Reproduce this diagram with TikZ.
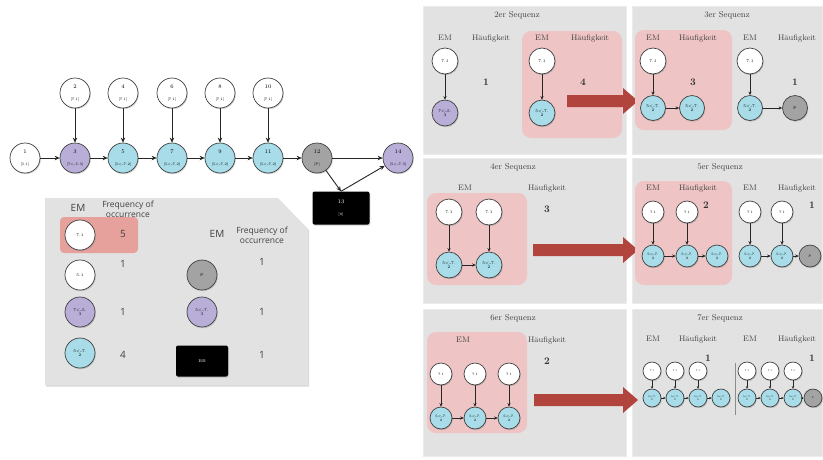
\documentclass[tikz,border=0pt]{standalone}
\usepackage{fontspec}
\newfontfamily\legendfont{Open Sans}
\usetikzlibrary{shadows,arrows.meta}
\definecolor{cpurple}{HTML}{B9AED8}
\definecolor{ccyan}{HTML}{A7DCE8}
\definecolor{cgrey}{HTML}{A3A3A3}
\definecolor{cpanel}{HTML}{E2E2E2}
\definecolor{cpink}{HTML}{EEC4C4}
\definecolor{csalmon}{HTML}{E6A19D}
\definecolor{cred}{HTML}{B1443C}
\newcommand\gnum[1]{{\fontsize{5.5}{6}\selectfont #1}}
\newcommand\gbr[1]{{\fontsize{3.5}{4}\selectfont #1}}
\begin{document}
\begin{tikzpicture}[x=1pt,y=-1pt,
  nd/.style={circle,draw=black!75,line width=0.7pt,inner sep=0pt,align=center,
     drop shadow={opacity=0.35,shadow xshift=0.8pt,shadow yshift=-1.2pt}},
  sz/.style={minimum size=#1},
  wn/.style={nd,fill=white},
  pn/.style={nd,fill=cpurple},
  cn/.style={nd,fill=ccyan},
  gn/.style={nd,fill=cgrey},
  bn/.style={rectangle,rounded corners=2pt,fill=black,text=white,align=center,inner sep=0pt,
     drop shadow={opacity=0.35,shadow xshift=0.8pt,shadow yshift=-1.2pt}},
  pf/.style={font=\fontsize{4}{4.4}\selectfont},
  mf/.style={font=\fontsize{3.4}{3.8}\selectfont},
  tf/.style={font=\fontsize{2.4}{2.7}\selectfont},
  arr/.style={-{Stealth[length=5pt,width=4.5pt]},line width=0.9pt,black!85},
  sarr/.style={-{Stealth[length=3.5pt,width=3.2pt]},line width=0.6pt,black!85},
  tarr/.style={-{Stealth[length=2.5pt,width=2.4pt]},line width=0.45pt,black!85},
  lab/.style={font=\fontsize{8}{9}\selectfont,text=black!75,inner sep=0pt},
  ttl/.style={font=\fontsize{8.5}{9}\selectfont,text=black!75,inner sep=0pt},
  bnum/.style={font=\fontsize{10}{10}\selectfont\bfseries,text=black!80,inner sep=0pt},
  lgt/.style={font=\legendfont\fontsize{8.5}{10}\selectfont,text=black!75,align=center,inner sep=0pt},
  lgn/.style={font=\legendfont\fontsize{10}{10}\selectfont,text=black!75,inner sep=0pt},
  panel/.style={fill=cpanel,draw=black!8,line width=0.6pt},
  pink/.style={fill=cpink,rounded corners=9pt}
]
\useasboundingbox (0,0) rectangle (823,459);

% ---------------- left graph ----------------
\node[wn,sz=30] (n1) at (25,158) {\gnum{1}\\\gbr{[5.1]}};
\node[pn,sz=30] (n3) at (75,158) {\gnum{3}\\\gbr{[7<-5.3]}};
\node[cn,sz=30] (n5) at (123,158) {\gnum{5}\\\gbr{[5<-7.2]}};
\node[cn,sz=30] (n7) at (172,158) {\gnum{7}\\\gbr{[5<-7.2]}};
\node[cn,sz=30] (n9) at (220,158) {\gnum{9}\\\gbr{[5<-7.2]}};
\node[cn,sz=30] (n11) at (268,158) {\gnum{11}\\\gbr{[5<-7.2]}};
\node[gn,sz=30] (n12) at (317,158) {\gnum{12}\\\gbr{[P]}};
\node[pn,sz=30] (n14) at (398,158) {\gnum{14}\\\gbr{[5<-7.3]}};
\node[wn,sz=30] (n2) at (75,93) {\gnum{2}\\\gbr{[7.1]}};
\node[wn,sz=30] (n4) at (123,93) {\gnum{4}\\\gbr{[7.1]}};
\node[wn,sz=30] (n6) at (172,93) {\gnum{6}\\\gbr{[7.1]}};
\node[wn,sz=30] (n8) at (220,93) {\gnum{8}\\\gbr{[7.1]}};
\node[wn,sz=30] (n10) at (268,93) {\gnum{10}\\\gbr{[7.1]}};
\node[bn,minimum width=57,minimum height=33] (n13) at (341,208) {\gnum{13}\\\gbr{[8]}};
\draw[arr] (n1) -- (n3);
\draw[arr] (n3) -- (n5);
\draw[arr] (n5) -- (n7);
\draw[arr] (n7) -- (n9);
\draw[arr] (n9) -- (n11);
\draw[arr] (n11) -- (n12);
\draw[arr] (n12) -- (n14);
\draw[arr] (n2) -- (n3);
\draw[arr] (n4) -- (n5);
\draw[arr] (n6) -- (n7);
\draw[arr] (n8) -- (n9);
\draw[arr] (n10) -- (n11);
\draw[arr] (n12) -- (n13.north);
\draw[arr] (n13.north) -- (n14);

% ---------------- legend ----------------
\fill[cpanel,drop shadow={opacity=0.3,shadow xshift=1pt,shadow yshift=-1.5pt}]
  (45,198) -- (278,198) -- (308,229) -- (308,385) -- (45,385) -- cycle;
\fill[csalmon,rounded corners=4pt] (60,217) rectangle (138,253);
\node[lgn] (l0) at (78,208) {EM};
\node[lgt] (l1) at (128,209) {Frequency of\\occurrence};
\node[lgn] (l2) at (217,234) {EM};
\node[lgt] (l3) at (262,235) {Frequency of\\occurrence};
\node[wn,sz=30,pf] (m1) at (80,235) {7.1};
\node[wn,sz=30,pf] (m2) at (80,275) {5.1};
\node[pn,sz=30,pf] (m3) at (80,312) {7<-5.\\3};
\node[cn,sz=30,pf] (m4) at (80,353) {5<-7.\\2};
\node[gn,sz=30,pf] (m5) at (202,275) {P};
\node[pn,sz=30,pf] (m6) at (202,312) {5<-7.\\3};
\node[bn,minimum width=52,minimum height=31,pf] (m7) at (202,361) {BB};
\node[lgn] (q1) at (123,234) {5};
\node[lgn] (q2) at (123,264) {1};
\node[lgn] (q3) at (123,312) {1};
\node[lgn] (q4) at (123,355) {4};
\node[lgn] (q5) at (262,262) {1};
\node[lgn] (q6) at (262,312) {1};
\node[lgn] (q7) at (262,355) {1};

% ---------------- panels ----------------
\fill[panel] (423,6) rectangle (626,154);
\fill[panel] (632,6) rectangle (822,154);
\fill[panel] (423,158) rectangle (626,303);
\fill[panel] (632,158) rectangle (822,303);
\fill[panel] (423,309) rectangle (626,456);
\fill[panel] (632,309) rectangle (822,456);

% panel 2er
\node[ttl] (p1t) at (517,15) {2er Sequenz};
\fill[pink] (522,31) rectangle (622,138);
\node[lab] (p1a) at (445,38) {EM};
\node[lab] (p1b) at (491,38) {Häufigkeit};
\node[lab] (p1c) at (542,38) {EM};
\node[lab] (p1d) at (590,38) {Häufigkeit};
\node[bnum] (p1e) at (486,82) {1};
\node[bnum] (p1f) at (583,82) {4};
\node[wn,sz=26,pf] (a1) at (445,61) {7.1};
\node[pn,sz=26,pf] (a2) at (445,113) {7<-5.\\3};
\node[wn,sz=26,pf] (a3) at (542,61) {7.1};
\node[cn,sz=26,pf] (a4) at (542,113) {5<-7.\\2};
\draw[sarr] (a1) -- (a2);
\draw[sarr] (a3) -- (a4);
\fill[cred] (567,95) -- (623,95) -- (623,88) -- (638,101) -- (623,114) -- (623,107) -- (567,107) -- cycle;

% panel 3er
\node[ttl] (p2t) at (727,15) {3er Sequenz};
\fill[pink] (635,30) rectangle (732,130);
\node[lab] (p2a) at (653,38) {EM};
\node[lab] (p2b) at (698,38) {Häufigkeit};
\node[lab] (p2c) at (750,38) {EM};
\node[lab] (p2d) at (797,38) {Häufigkeit};
\node[bnum] (p2e) at (693,82) {3};
\node[bnum] (p2f) at (795,82) {1};
\node[wn,sz=26,pf] (b1) at (653,61) {7.1};
\node[cn,sz=25,pf] (b2) at (653,108) {5<-7.\\2};
\node[cn,sz=25,pf] (b3) at (692,108) {5<-7.\\2};
\node[wn,sz=26,pf] (b4) at (750,61) {7.1};
\node[cn,sz=25,pf] (b5) at (750,108) {5<-7.\\2};
\node[gn,sz=25,pf] (b6) at (795,108) {P};
\draw[sarr] (b1) -- (b2);
\draw[sarr] (b2) -- (b3);
\draw[sarr] (b4) -- (b5);
\draw[sarr] (b5) -- (b6);

% panel 4er
\node[ttl] (p3t) at (513,167) {4er Sequenz};
\fill[pink] (427,193) rectangle (527,285);
\node[lab] (p3a) at (465,188) {EM};
\node[lab] (p3b) at (547,188) {Häufigkeit};
\node[bnum] (p3e) at (547,209) {3};
\node[wn,sz=26,pf] (c1) at (449,212) {7.1};
\node[wn,sz=26,pf] (c2) at (489,212) {7.1};
\node[cn,sz=26,pf] (c3) at (449,265) {5<-7.\\2};
\node[cn,sz=26,pf] (c4) at (489,265) {5<-7.\\2};
\draw[sarr] (c1) -- (c3);
\draw[sarr] (c2) -- (c4);
\draw[sarr] (c3) -- (c4);
\fill[cred] (533,244) -- (623,244) -- (623,237) -- (638,250) -- (623,263) -- (623,256) -- (533,256) -- cycle;

% panel 5er
\node[ttl] (p4t) at (720,167) {5er Sequenz};
\fill[pink] (635,181) rectangle (732,285);
\node[lab] (p4a) at (653,188) {EM};
\node[lab] (p4b) at (698,188) {Häufigkeit};
\node[lab] (p4c) at (750,188) {EM};
\node[lab] (p4d) at (797,188) {Häufigkeit};
\node[bnum] (p4e) at (706,205) {2};
\node[bnum] (p4f) at (812,205) {1};
\node[wn,sz=22,mf] (d1) at (653,212) {7.1};
\node[wn,sz=22,mf] (d2) at (687,212) {7.1};
\node[cn,sz=22,mf] (d3) at (653,256) {5<-7.\\2};
\node[cn,sz=22,mf] (d4) at (687,256) {5<-7.\\2};
\node[cn,sz=22,mf] (d5) at (717,256) {5<-7.\\2};
\node[wn,sz=22,mf] (d6) at (750,212) {7.1};
\node[wn,sz=22,mf] (d7) at (782,212) {7.1};
\node[cn,sz=22,mf] (d8) at (750,256) {5<-7.\\2};
\node[cn,sz=22,mf] (d9) at (782,256) {5<-7.\\2};
\node[gn,sz=22,mf] (d10) at (810,256) {P};
\draw[sarr] (d1) -- (d3);
\draw[sarr] (d2) -- (d4);
\draw[sarr] (d3) -- (d4);
\draw[sarr] (d4) -- (d5);
\draw[sarr] (d6) -- (d8);
\draw[sarr] (d7) -- (d9);
\draw[sarr] (d8) -- (d9);
\draw[sarr] (d9) -- (d10);

% panel 6er
\node[ttl] (p5t) at (513,318) {6er Sequenz};
\fill[pink] (427,332) rectangle (527,433);
\node[lab] (p5a) at (463,340) {EM};
\node[lab] (p5b) at (547,340) {Häufigkeit};
\node[bnum] (p5e) at (547,361) {2};
\node[wn,sz=22,mf] (e1) at (441,374) {7.1};
\node[wn,sz=22,mf] (e2) at (475,374) {7.1};
\node[wn,sz=22,mf] (e3) at (509,374) {7.1};
\node[cn,sz=22,mf] (e4) at (441,418) {5<-7.\\2};
\node[cn,sz=22,mf] (e5) at (475,418) {5<-7.\\2};
\node[cn,sz=22,mf] (e6) at (509,418) {5<-7.\\2};
\draw[sarr] (e1) -- (e4);
\draw[sarr] (e2) -- (e5);
\draw[sarr] (e3) -- (e6);
\draw[sarr] (e4) -- (e5);
\draw[sarr] (e5) -- (e6);
\fill[cred] (534,394) -- (623,394) -- (623,387) -- (638,400) -- (623,413) -- (623,406) -- (534,406) -- cycle;

% panel 7er
\node[ttl] (p6t) at (720,318) {7er Sequenz};
\node[lab] (p6a) at (653,339) {EM};
\node[lab] (p6b) at (698,339) {Häufigkeit};
\node[lab] (p6c) at (750,339) {EM};
\node[lab] (p6d) at (797,339) {Häufigkeit};
\node[bnum] (p6e) at (708,358) {1};
\node[bnum] (p6f) at (812,358) {1};
\draw[black!45,line width=0.8pt] (735,363) -- (735,415);
\node[wn,sz=18,tf] (f1) at (652,371) {7.1};
\node[wn,sz=18,tf] (f2) at (675,371) {7.1};
\node[wn,sz=18,tf] (f3) at (698,371) {7.1};
\node[cn,sz=18,tf] (f4) at (652,398) {5<-7.\\2};
\node[cn,sz=18,tf] (f5) at (675,398) {5<-7.\\2};
\node[cn,sz=18,tf] (f6) at (698,398) {5<-7.\\2};
\node[cn,sz=18,tf] (f7) at (721,398) {5<-7.\\2};
\node[wn,sz=18,tf] (g1) at (747,371) {7.1};
\node[wn,sz=18,tf] (g2) at (770,371) {7.1};
\node[wn,sz=18,tf] (g3) at (793,371) {7.1};
\node[cn,sz=18,tf] (g4) at (747,398) {5<-7.\\2};
\node[cn,sz=18,tf] (g5) at (770,398) {5<-7.\\2};
\node[cn,sz=18,tf] (g6) at (793,398) {5<-7.\\2};
\node[gn,sz=18,tf] (g7) at (813,398) {P};
\draw[tarr] (f1) -- (f4);
\draw[tarr] (f2) -- (f5);
\draw[tarr] (f3) -- (f6);
\draw[tarr] (f4) -- (f5);
\draw[tarr] (f5) -- (f6);
\draw[tarr] (f6) -- (f7);
\draw[tarr] (g1) -- (g4);
\draw[tarr] (g2) -- (g5);
\draw[tarr] (g3) -- (g6);
\draw[tarr] (g4) -- (g5);
\draw[tarr] (g5) -- (g6);
\draw[tarr] (g6) -- (g7);
\end{tikzpicture}
\end{document}
